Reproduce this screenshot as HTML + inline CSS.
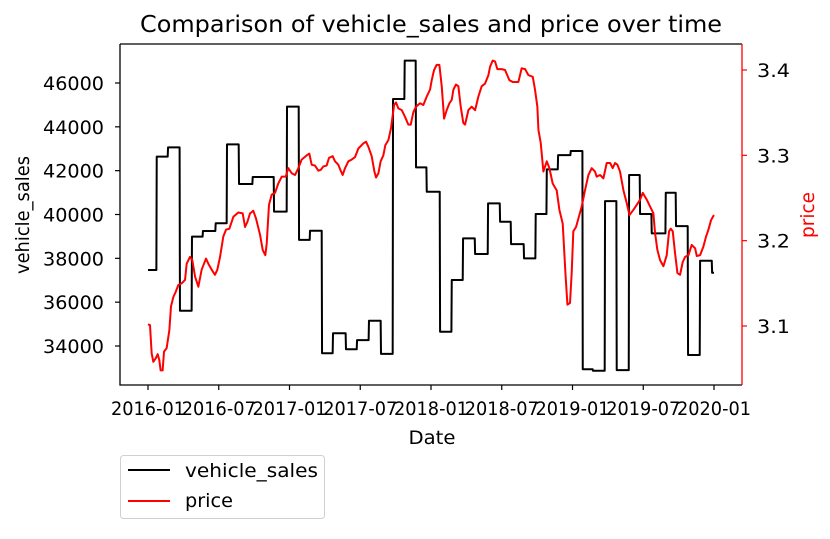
<!DOCTYPE html>
<html><head><meta charset="utf-8"><style>
body{margin:0;background:#fff;position:relative}
svg text{font-family:"DejaVu Sans","Liberation Sans",sans-serif}
</style></head><body>
<svg id="chart" width="830" height="534" viewBox="0 0 830 534" xmlns="http://www.w3.org/2000/svg"></svg>
<script>
// Data: months since 2016-01
const xTickLabels = ["2016-01","2016-07","2017-01","2017-07","2018-01","2018-07","2019-01","2019-07","2020-01"];
const xTickMonths = [0,6,12,18,24,30,36,42,48];
const leftTicks = [34000,36000,38000,40000,42000,44000,46000];
const rightTicks = [3.1,3.2,3.3,3.4];
const salesStart = [0,0.74,1.70,2.71,3.73,4.66,5.74,6.70,7.72,8.88,10.69,11.79,12.81,13.74,14.76,15.69,16.79,17.73,18.74,19.76,20.78,21.77,22.73,23.64,24.77,25.76,26.72,27.74,28.84,29.86,30.79,31.89,32.88,33.82,34.78,35.85,36.87,37.74,38.76,39.75,40.80,41.73,42.72,43.91,44.78,45.80,46.82,47.84];
const salesValues = [37470,42640,43060,35610,38990,39250,39600,43200,41390,41710,40130,44920,38840,39260,33670,34580,33850,34270,35150,33640,45270,47020,42150,41040,34650,37010,38910,38200,40510,39670,38650,38000,40020,42060,42710,42900,32940,32870,40610,32900,41800,40020,39140,40990,39470,33590,37890,37340];
const salesEnd = 48;
const priceMonths = [0,0.17,0.31,0.45,0.65,0.82,0.96,1.07,1.24,1.36,1.58,1.81,1.95,2.15,2.35,2.57,2.86,3.14,3.28,3.56,3.76,3.99,4.27,4.55,4.92,5.15,5.40,5.68,5.88,6.11,6.39,6.62,6.90,7.24,7.66,8.03,8.23,8.43,8.65,8.93,9.16,9.50,9.73,9.95,10.07,10.26,10.49,10.77,11.05,11.34,11.68,11.90,12.19,12.47,12.75,13.03,13.46,13.68,13.88,14.16,14.45,14.65,14.87,15.15,15.35,15.66,15.86,16.14,16.34,16.51,16.71,16.99,17.27,17.56,17.84,18.26,18.49,18.69,18.97,19.20,19.34,19.54,19.73,19.96,20.13,20.39,20.61,20.87,21.03,21.23,21.52,21.80,22.08,22.28,22.51,22.73,23.07,23.35,23.64,23.92,24.06,24.26,24.48,24.71,24.91,25.11,25.33,25.56,25.76,25.90,26.12,26.32,26.52,26.74,26.89,27.17,27.45,27.74,28.02,28.30,28.58,28.87,29.01,29.23,29.43,29.63,30.00,30.28,30.65,30.93,31.41,31.69,31.98,32.26,32.63,32.82,33.02,33.11,33.31,33.53,33.82,34.04,34.32,34.66,34.89,35.17,35.40,35.57,35.79,35.93,36.07,36.30,36.50,36.78,37.06,37.35,37.63,37.91,38.05,38.34,38.62,38.90,39.19,39.41,39.61,39.81,40.03,40.32,40.60,40.83,41.16,41.45,41.73,41.96,42.30,42.58,42.86,43.00,43.20,43.43,43.71,43.99,44.19,44.33,44.50,44.70,44.90,45.12,45.35,45.55,45.83,46.11,46.40,46.54,46.82,47.10,47.33,47.53,47.75,47.95,48.0];
const priceValues = [3.102,3.101,3.068,3.058,3.062,3.067,3.060,3.048,3.048,3.070,3.074,3.095,3.123,3.134,3.140,3.148,3.150,3.154,3.173,3.181,3.177,3.158,3.146,3.166,3.179,3.172,3.166,3.160,3.166,3.181,3.205,3.213,3.214,3.228,3.233,3.232,3.216,3.222,3.232,3.235,3.226,3.207,3.189,3.183,3.197,3.242,3.254,3.256,3.267,3.275,3.275,3.285,3.279,3.277,3.285,3.295,3.300,3.302,3.289,3.288,3.282,3.283,3.287,3.288,3.297,3.299,3.293,3.289,3.282,3.277,3.285,3.293,3.295,3.298,3.308,3.314,3.316,3.310,3.299,3.281,3.274,3.279,3.293,3.300,3.312,3.318,3.332,3.359,3.362,3.355,3.353,3.345,3.336,3.336,3.351,3.357,3.361,3.359,3.369,3.377,3.388,3.400,3.406,3.406,3.381,3.343,3.353,3.361,3.365,3.377,3.383,3.381,3.357,3.338,3.336,3.353,3.357,3.353,3.369,3.381,3.384,3.394,3.404,3.411,3.410,3.401,3.401,3.400,3.388,3.386,3.386,3.402,3.401,3.394,3.392,3.377,3.357,3.330,3.314,3.281,3.293,3.285,3.267,3.259,3.236,3.220,3.162,3.125,3.127,3.162,3.211,3.216,3.226,3.240,3.259,3.277,3.285,3.281,3.275,3.277,3.273,3.291,3.291,3.285,3.291,3.289,3.281,3.259,3.244,3.230,3.236,3.242,3.248,3.256,3.248,3.240,3.232,3.209,3.189,3.177,3.170,3.183,3.211,3.214,3.211,3.185,3.162,3.160,3.175,3.181,3.183,3.195,3.191,3.182,3.183,3.193,3.205,3.213,3.224,3.229,3.230];

const NS="http://www.w3.org/2000/svg";
const svg=document.getElementById('chart');
const X0=120,X1=742,Y0=44,Y1=385;
const xs=m=>148+m*(566/48);
const yl=v=>346-(v-34000)*(263/12000);
const yr=p=>326-(p-3.1)*(256/0.3);
function mk(tag,attrs,parent){const e=document.createElementNS(NS,tag);for(const k in attrs)e.setAttribute(k,attrs[k]);(parent||svg).appendChild(e);return e;}

let d=`M${xs(salesStart[0])},${yl(salesValues[0])}`;
for(let i=0;i<salesStart.length;i++){
  d+=` L${xs(salesStart[i])},${yl(salesValues[i])}`;
  const end=i+1<salesStart.length?salesStart[i+1]-0.03:salesEnd;
  d+=` L${xs(end)},${yl(salesValues[i])}`;
}
const sl=mk('path',{d:d,fill:'none',stroke:'#000','stroke-width':2,'stroke-linejoin':'round'});



let pd='';
priceMonths.forEach((m,i)=>{pd+=(i?' L':'M')+xs(m)+','+yr(priceValues[i]);});
const pl=mk('path',{d:pd,fill:'none',stroke:'#ff0000','stroke-width':2,'stroke-linejoin':'round'});



mk('path',{d:`M${X0},${Y0} H${X1} M${X0},${Y0} V${Y1} H${X1}`,fill:'none',stroke:'#000','stroke-width':1.3});
mk('line',{x1:X1,y1:Y0,x2:X1,y2:Y1,stroke:'#ff0000','stroke-width':1.3});

xTickMonths.forEach((m,i)=>{
  mk('line',{x1:xs(m),y1:Y1,x2:xs(m),y2:Y1+5,stroke:'#000','stroke-width':1.2});
  const t=mk('text',{x:xs(m),y:Y1+30,'font-size':19,'text-anchor':'middle',fill:'#000',textLength:74,lengthAdjust:'spacingAndGlyphs'});
  t.textContent=xTickLabels[i];
  
  
});
leftTicks.forEach(v=>{
  mk('line',{x1:X0-5,y1:yl(v),x2:X0,y2:yl(v),stroke:'#000','stroke-width':1.2});
  const t=mk('text',{x:X0-16,y:yl(v)+7,'font-size':19,'text-anchor':'end',fill:'#000',textLength:61,lengthAdjust:'spacingAndGlyphs'});
  t.textContent=v;
  
  
});
rightTicks.forEach(v=>{
  mk('line',{x1:X1,y1:yr(v),x2:X1+5,y2:yr(v),stroke:'#ff0000','stroke-width':1.2});
  const t=mk('text',{x:X1+15,y:yr(v)+7,'font-size':19,'text-anchor':'start',fill:'#000',textLength:33,lengthAdjust:'spacingAndGlyphs'});
  t.textContent=v.toFixed(1);
  
  
});
</script>
<svg width="830" height="534" style="position:absolute;left:0;top:0" xmlns="http://www.w3.org/2000/svg">
<text x="431" y="32" font-size="23" text-anchor="middle" textLength="582" lengthAdjust="spacingAndGlyphs" font-family="DejaVu Sans, Liberation Sans, sans-serif">Comparison of vehicle_sales and price over time</text>
<text x="432" y="444" font-size="19" text-anchor="middle" textLength="47" lengthAdjust="spacingAndGlyphs" font-family="DejaVu Sans, Liberation Sans, sans-serif">Date</text>
<text transform="translate(29,215) rotate(-90)" font-size="19" text-anchor="middle" textLength="118" lengthAdjust="spacingAndGlyphs" font-family="DejaVu Sans, Liberation Sans, sans-serif">vehicle_sales</text>
<text transform="translate(814,215) rotate(-90)" font-size="19" text-anchor="middle" fill="#ff0000" textLength="46" lengthAdjust="spacingAndGlyphs" font-family="DejaVu Sans, Liberation Sans, sans-serif">price</text>
<g>
<rect x="120.5" y="455.5" width="204" height="63" rx="3" fill="#fff" stroke="#d0d0d0" stroke-width="1"/>
<line x1="128" y1="470" x2="170" y2="470" stroke="#000" stroke-width="2"/>
<text x="185" y="477" font-size="19" textLength="133" lengthAdjust="spacingAndGlyphs" font-family="DejaVu Sans, Liberation Sans, sans-serif">vehicle_sales</text>
<line x1="128" y1="501" x2="170" y2="501" stroke="#ff0000" stroke-width="2"/>
<text x="185" y="507" font-size="19" textLength="48" lengthAdjust="spacingAndGlyphs" font-family="DejaVu Sans, Liberation Sans, sans-serif">price</text>
</g>
</svg>
</body></html>
